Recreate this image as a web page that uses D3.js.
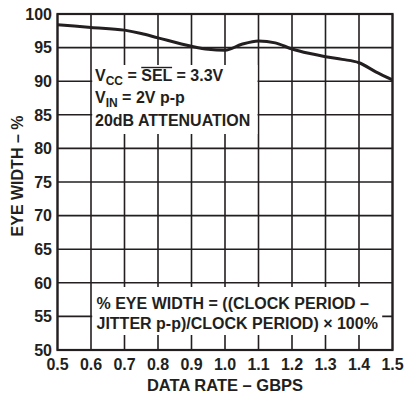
<!DOCTYPE html>
<html><head><meta charset="utf-8">
<script src="https://cdn.jsdelivr.net/npm/d3@7"></script>
<style>body{margin:0;background:#fff}svg{display:block}text{font-family:"Liberation Sans",Arial,sans-serif;font-weight:bold;fill:#231f20}</style>
</head><body>
<svg id="c" width="404" height="400"></svg>
<script>
const dataRate = [0.5, 0.6, 0.7, 0.75, 0.8, 0.9, 0.95, 1.0, 1.05, 1.1, 1.15, 1.2, 1.25, 1.3, 1.35, 1.4, 1.45, 1.5];
const eyeWidth = [98.4, 98.0, 97.6, 97.1, 96.45, 95.2, 94.75, 94.6, 95.5, 96.0, 95.7, 94.8, 94.15, 93.65, 93.25, 92.75, 91.4, 90.2];
const xTicks = [0.5,0.6,0.7,0.8,0.9,1.0,1.1,1.2,1.3,1.4,1.5];
const yTicks = [50,55,60,65,70,75,80,85,90,95,100];
const xTitle = "DATA RATE – GBPS";
const yTitle = "EYE WIDTH – %";

const ink = "#231f20";
const svg = d3.select("#c");
const L = 57.5, R = 392.5, T = 14, B = 350;
const x = d3.scaleLinear().domain([0.5,1.5]).range([L,R]);
const y = d3.scaleLinear().domain([50,100]).range([B,T]);

// grid
const g = svg.append("g");
g.selectAll("line.v").data(xTicks).join("line")
  .attr("x1", d=>x(d)).attr("x2", d=>x(d)).attr("y1", T).attr("y2", B)
  .attr("stroke", ink).attr("stroke-width", 1.6);
g.selectAll("line.h").data(yTicks).join("line")
  .attr("y1", d=>y(d)).attr("y2", d=>y(d)).attr("x1", L).attr("x2", R)
  .attr("stroke", ink).attr("stroke-width", 1.6);

// annotation boxes (white)
svg.append("rect").attr("x", x(0.6)+1.2).attr("y", 65).attr("width", x(1.1)-x(0.6)-2.2).attr("height", 69).attr("fill","#fff");
svg.append("rect").attr("x", x(0.6)+1.2).attr("y", 287).attr("width", 290).attr("height", 48).attr("fill","#fff");

// curve
const pts = dataRate.map((d,i)=>[d, eyeWidth[i]]);
svg.append("path").datum(pts)
  .attr("d", d3.line().x(d=>x(d[0])).y(d=>y(d[1])).curve(d3.curveMonotoneX))
  .attr("fill","none").attr("stroke", ink).attr("stroke-width", 3);

// frame
svg.append("rect").attr("x", L).attr("y", T).attr("width", R-L).attr("height", B-T)
  .attr("fill","none").attr("stroke", ink).attr("stroke-width", 2.2);

// axes labels
const fs = 16;
svg.append("g").selectAll("text").data(yTicks).join("text")
  .attr("x", 52).attr("y", d=>y(d)+5.7).attr("text-anchor","end")
  .attr("font-size", fs).text(d=>d);
svg.append("g").selectAll("text").data(xTicks).join("text")
  .attr("x", d=>x(d)).attr("y", 370).attr("text-anchor","middle")
  .attr("font-size", fs).text(d=>d.toFixed(1));
svg.append("text").attr("x", (L+R)/2).attr("y", 391).attr("text-anchor","middle")
  .attr("font-size", 16.5).text(xTitle);
svg.append("text").attr("transform", `translate(23,${(T+B)/2-6}) rotate(-90)`).attr("text-anchor","middle")
  .attr("font-size", 16).text(yTitle);

// box 1 text
const bx = 95;
const t1 = svg.append("text").attr("x", bx).attr("y", 81).attr("font-size", fs);
t1.append("tspan").text("V");
t1.append("tspan").attr("font-size", 12).attr("dy", 4).text("CC");
t1.append("tspan").attr("dy", -4).text(" = SEL = 3.3V");
// overline for SEL
{
  const node = t1.node();
  const full = "VCC = SEL = 3.3V";
  const i0 = full.indexOf("SEL");
  const sx = node.getStartPositionOfChar(i0).x;
  const ex = node.getEndPositionOfChar(i0+2).x;
  svg.append("line").attr("x1", sx).attr("x2", ex).attr("y1", 67.5).attr("y2", 67.5)
    .attr("stroke", ink).attr("stroke-width", 1.4);
}
const t2 = svg.append("text").attr("x", bx).attr("y", 103).attr("font-size", fs);
t2.append("tspan").text("V");
t2.append("tspan").attr("font-size", 12).attr("dy", 4).text("IN");
t2.append("tspan").attr("dy", -4).text(" = 2V p-p");
svg.append("text").attr("x", bx).attr("y", 125.5).attr("font-size", fs).text("20dB ATTENUATION");

// box 2 text
svg.append("text").attr("x", 96.5).attr("y", 308.5).attr("font-size", fs).text("% EYE WIDTH = ((CLOCK PERIOD –");
svg.append("text").attr("x", 96.5).attr("y", 328.5).attr("font-size", fs).text("JITTER p-p)/CLOCK PERIOD) × 100%");
</script>
</body></html>
